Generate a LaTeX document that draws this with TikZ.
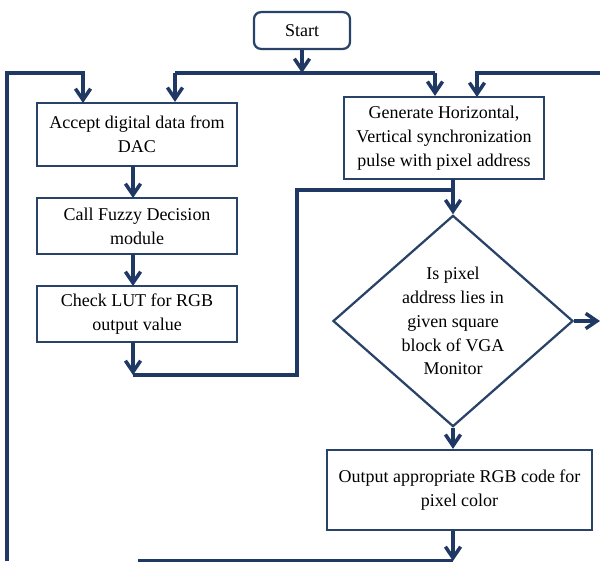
\documentclass[tikz,border=0pt]{standalone}
\usepackage{fontspec}
\setmainfont{Liberation Serif}
\usetikzlibrary{shapes.geometric,arrows.meta}
\definecolor{navy}{RGB}{31,56,100}
\definecolor{boxline}{RGB}{40,66,104}
\begin{document}
\begin{tikzpicture}[x=0.025cm,y=-0.025cm]
\tikzset{
    caja/.style={draw=boxline, line width=1.6pt, align=center, inner sep=0pt, font=\fontsize{12.8}{17}\selectfont},
    rombo/.style={caja, diamond, minimum width=6cm, minimum height=5.2cm},
    flecha/.style={draw=navy, line width=2.5pt, -{Straight Barb[length=2.8mm,width=3.8mm]}},
    linea/.style={draw=navy, line width=2.5pt}
}
\useasboundingbox (0,0) rectangle (600,561);
\node[caja, rounded corners=5pt, minimum width=2.4cm, minimum height=0.92cm] (inicio) at (302,30.5) {Start};
\node[caja, minimum width=5cm, minimum height=1.575cm] (aceptar) at (137,134.5) {Accept digital data from\\DAC};
\node[caja, minimum width=5cm, minimum height=1.4cm] (difuso) at (137,226) {Call Fuzzy Decision\\module};
\node[caja, minimum width=5cm, minimum height=1.4cm] (tabla) at (137,314) {Check LUT for RGB\\output value};
\node[caja, minimum width=5cm, minimum height=2.05cm] (generar) at (444,138) {Generate Horizontal,\\Vertical synchronization\\pulse with pixel address};
\node[rombo] (decision) at (453,321) {Is pixel\\address lies in\\given square\\block of VGA\\Monitor};
\node[caja, minimum width=6.625cm, minimum height=2cm] (salida) at (459.5,490) {Output appropriate RGB code for\\pixel color};
\coordinate (cruce) at (302,73);
\coordinate (izq) at (175,73);
\coordinate (der) at (435,73);
\coordinate (lazoizq) at (7,561);
\coordinate (lazoder) at (600,73);
\coordinate (baja) at (133,375);
\coordinate (sube) at (453,190);
\coordinate (fin) at (453,561);
\coordinate (salto) at (600,321);
\draw[flecha] (inicio) -- (cruce);
\draw[linea] (izq) -- (der);
\draw[flecha] (izq) -- (izq |- aceptar.north);
\draw[flecha] (der) -- (der |- generar.north);
\draw[flecha] (lazoizq) |- (83,73) -- (83,103);
\draw[flecha] (lazoder) -| (477,97);
\draw[flecha] (133,166) -- (133,198);
\draw[flecha] (133,254) -- (133,286);
\draw[flecha] (133,342) -- (baja);
\draw[linea] (baja) -| (297,190) -- (sube);
\draw[flecha] (453,179) -- (decision.north);
\draw[flecha] (decision.east) -- (salto);
\draw[flecha] (decision.south) -- (salida.north -| decision.south);
\draw[flecha] (fin |- salida.south) -- (fin);
\draw[linea] (fin) -- (138,561);
\end{tikzpicture}
\end{document}
